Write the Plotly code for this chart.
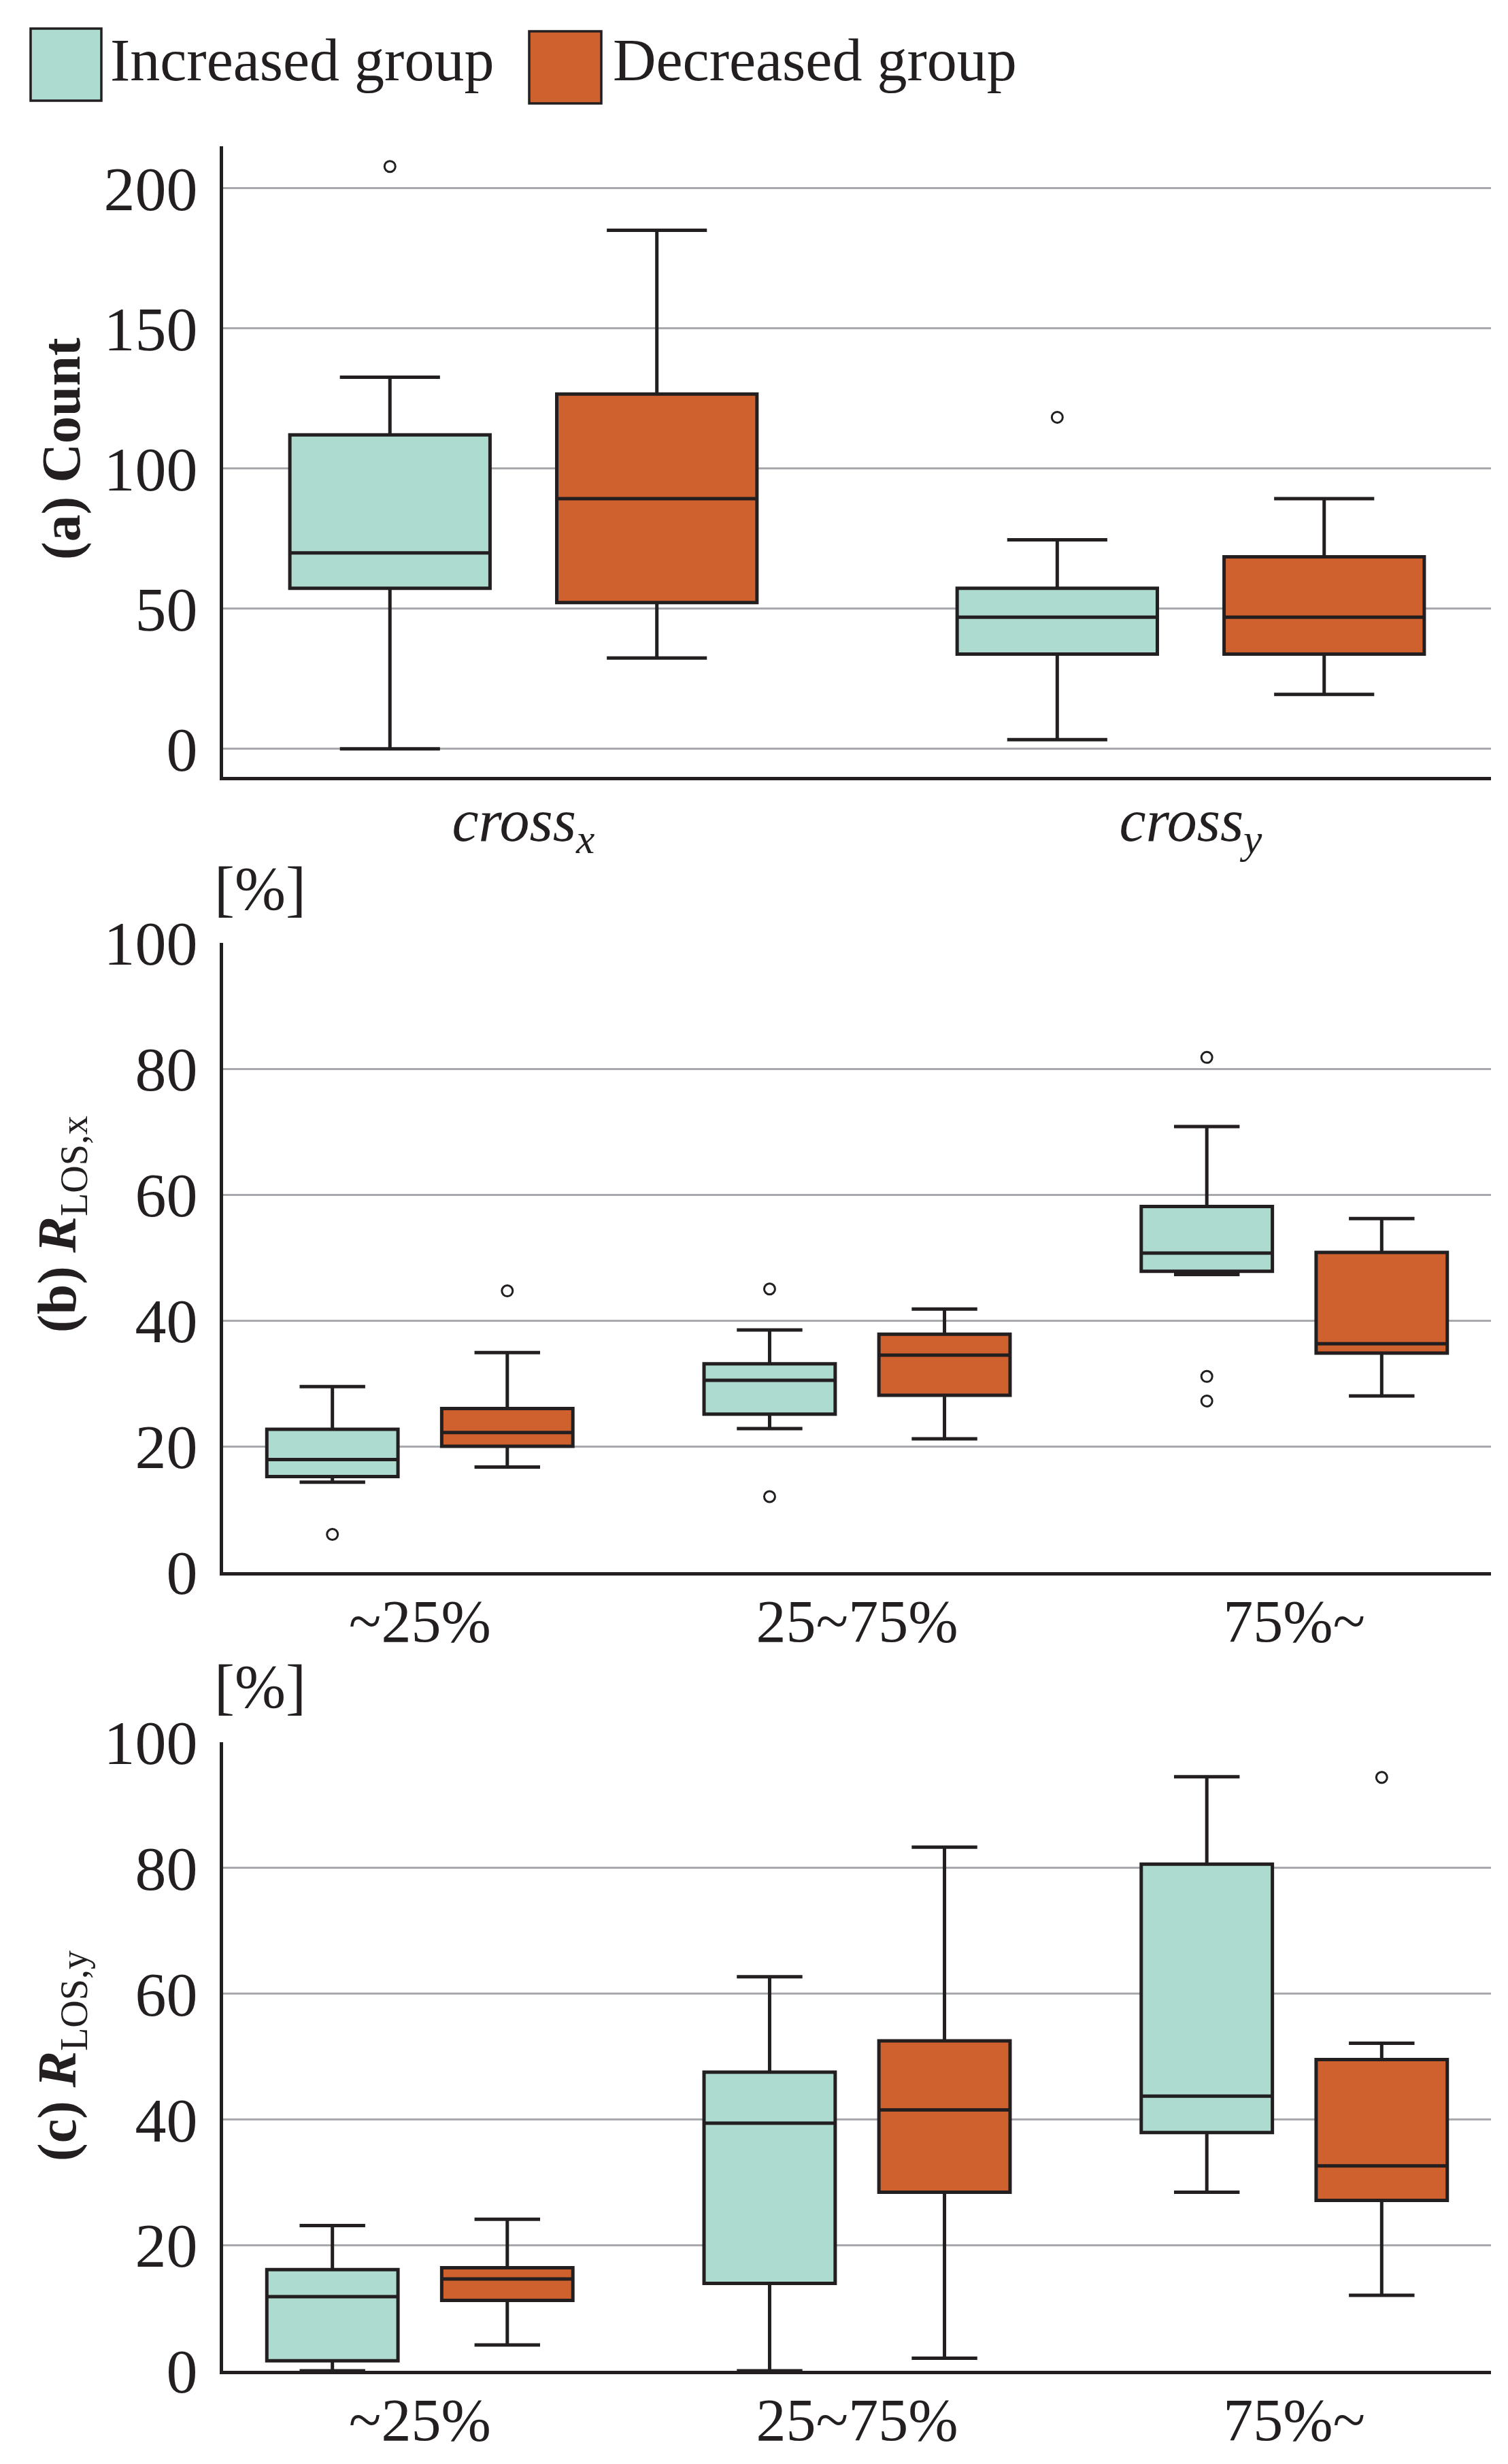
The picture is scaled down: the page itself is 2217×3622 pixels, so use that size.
import plotly.graph_objects as go

# ---------------- data ----------------
group_names = ["Increased group", "Decreased group"]

cats_a = ["cross_x", "cross_y"]
ticktext_a = ["<i>cross<sub>x</sub></i>", "<i>cross<sub>y</sub></i>"]
cats_bc = ["~25%", "25~75%", "75%~"]

# (a) Count
a_inc_low = [0.0, 3.3]
a_inc_q1 = [57.3, 33.8]
a_inc_med = [69.9, 47.0]
a_inc_q3 = [112.0, 57.3]
a_inc_up = [132.6, 74.6]
a_inc_out = [[207.8], [118.3]]

a_dec_low = [32.4, 19.4]
a_dec_q1 = [52.2, 33.8]
a_dec_med = [89.3, 47.0]
a_dec_q3 = [126.6, 68.5]
a_dec_up = [185.0, 89.3]
a_dec_out = [[], []]

# (b) R_LOS,x [%]
b_inc_low = [14.3, 22.8, 47.3]
b_inc_q1 = [15.2, 25.1, 47.8]
b_inc_med = [17.9, 30.5, 50.7]
b_inc_q3 = [22.7, 33.1, 58.1]
b_inc_up = [29.5, 38.5, 70.8]
b_inc_out = [[6.0], [45.0, 12.0], [81.8, 31.1, 27.2]]

b_dec_low = [16.7, 21.2, 28.0]
b_dec_q1 = [20.0, 28.1, 34.8]
b_dec_med = [22.2, 34.5, 36.3]
b_dec_q3 = [26.0, 37.8, 50.8]
b_dec_up = [34.9, 41.8, 56.2]
b_dec_out = [[44.7], [], []]

# (c) R_LOS,y [%]
c_inc_low = [0.0, 0.0, 28.4]
c_inc_q1 = [1.6, 13.9, 37.9]
c_inc_med = [11.8, 39.4, 43.7]
c_inc_q3 = [16.1, 47.5, 80.6]
c_inc_up = [23.1, 62.7, 94.5]
c_inc_out = [[], [], []]

c_dec_low = [4.1, 2.0, 12.0]
c_dec_q1 = [11.2, 28.4, 27.1]
c_dec_med = [14.6, 41.5, 32.6]
c_dec_q3 = [16.4, 52.5, 49.5]
c_dec_up = [24.1, 83.3, 52.1]
c_dec_out = [[], [], [94.4]]

ytick_a = [0, 50, 100, 150, 200]
ytick_bc = [0, 20, 40, 60, 80, 100]

# ---------------- style ----------------
# positions below are given in page pixels; the html body adds an 8px margin
OFF = 8
W, H = 2217 - OFF, 3622 - OFF
ML, MR, MT, MB = 328 - OFF, 25, 215 - OFF, 137
PW = W - ML - MR
PH = H - MT - MB
FONT = "Liberation Serif"
DARK = "#231f20"
GRID = "#a7a9ac"
TEAL = "#addbd0"
ORANGE = "#ce612d"


def px_x(px):
    return (px - OFF - ML) / PW


def px_y(py):
    return (H - MB - (py - OFF)) / PH


dom_a = [px_y(1142), px_y(215)]
dom_b = [px_y(2311), px_y(1386)]
dom_c = [0.0, px_y(2561)]

fig = go.Figure()


def add_box(name, color, group, cats, low, q1, med, q3, up, out, xa, ya):
    # rows without outliers get a null placeholder so every row is a list of samples
    samples = [row if len(row) else [None] for row in out]
    fig.add_trace(go.Box(
        name=name,
        x=cats,
        y=samples,
        q1=q1, median=med, q3=q3,
        lowerfence=low, upperfence=up,
        boxpoints="outliers",
        jitter=0, pointpos=0,
        whiskerwidth=0.5,
        fillcolor=color,
        line=dict(color=DARK, width=5),
        marker=dict(symbol="circle-open", size=16, color=DARK,
                    line=dict(width=3, color=DARK)),
        offsetgroup=group, alignmentgroup="all",
        xaxis=xa, yaxis=ya,
        showlegend=False,
    ))


add_box(group_names[0], TEAL, "inc", cats_a, a_inc_low, a_inc_q1, a_inc_med, a_inc_q3, a_inc_up, a_inc_out, "x", "y")
add_box(group_names[1], ORANGE, "dec", cats_a, a_dec_low, a_dec_q1, a_dec_med, a_dec_q3, a_dec_up, a_dec_out, "x", "y")
add_box(group_names[0], TEAL, "inc", cats_bc, b_inc_low, b_inc_q1, b_inc_med, b_inc_q3, b_inc_up, b_inc_out, "x2", "y2")
add_box(group_names[1], ORANGE, "dec", cats_bc, b_dec_low, b_dec_q1, b_dec_med, b_dec_q3, b_dec_up, b_dec_out, "x2", "y2")
add_box(group_names[0], TEAL, "inc", cats_bc, c_inc_low, c_inc_q1, c_inc_med, c_inc_q3, c_inc_up, c_inc_out, "x3", "y3")
add_box(group_names[1], ORANGE, "dec", cats_bc, c_dec_low, c_dec_q1, c_dec_med, c_dec_q3, c_dec_up, c_dec_out, "x3", "y3")

xcommon = dict(
    type="category", showline=True, linewidth=5, linecolor=DARK,
    showgrid=False, zeroline=False, ticks="",
    tickfont=dict(family=FONT, size=88, color=DARK), domain=[0, 1],
)
ycommon = dict(
    type="linear",
    showline=True, linewidth=5, linecolor=DARK, showgrid=True,
    gridcolor=GRID, gridwidth=3, zeroline=False, ticks="",
    ticklabelstandoff=14, tickfont=dict(family=FONT, size=92, color=DARK),
)

fig.update_layout(
    width=W, height=H,
    margin=dict(l=ML, r=MR, t=MT, b=MB),
    paper_bgcolor="white", plot_bgcolor="white",
    boxmode="group", boxgap=0.2, boxgroupgap=0.25,
    showlegend=False,
    font=dict(family=FONT, color=DARK),
    xaxis=dict(xcommon, anchor="y", range=[-0.45, 1.45],
               categoryorder="array", categoryarray=cats_a,
               tickvals=cats_a, ticktext=ticktext_a, ticklabelstandoff=-17),
    yaxis=dict(ycommon, anchor="x", domain=dom_a, range=[-10, 215], tickvals=ytick_a),
    xaxis2=dict(xcommon, anchor="y2", range=[-0.45, 2.45], ticklabelstandoff=-9,
                categoryorder="array", categoryarray=cats_bc),
    yaxis2=dict(ycommon, anchor="x2", domain=dom_b, range=[0, 100], tickvals=ytick_bc),
    xaxis3=dict(xcommon, anchor="y3", range=[-0.45, 2.45], ticklabelstandoff=-9,
                categoryorder="array", categoryarray=cats_bc),
    yaxis3=dict(ycommon, anchor="x3", domain=dom_c, range=[0, 100], tickvals=ytick_bc),
)

# y-axis titles
titles = [
    ("<b>(a) Count</b>", 660),
    ("<b>(b) <i>R</i></b><sub>LOS,x</sub>", 1800),
    ("<b>(c) <i>R</i></b><sub>LOS,y</sub>", 3022),
]
for txt, yc in titles:
    fig.add_annotation(
        text=txt, xref="paper", yref="paper", x=px_x(90), y=px_y(yc),
        xanchor="center", yanchor="middle", textangle=-90, showarrow=False,
        font=dict(family=FONT, size=80, color=DARK),
    )

# unit labels
for yc in (1306, 2479):
    fig.add_annotation(
        text="[%]", xref="paper", yref="paper", x=px_x(382), y=px_y(yc),
        xanchor="center", yanchor="middle", showarrow=False,
        font=dict(family=FONT, size=90, color=DARK),
    )

# legend (drawn manually to match the large swatches)
legend_items = [(group_names[0], TEAL, 45, 149, 42, 148, 160),
                (group_names[1], ORANGE, 778, 884, 46, 152, 899)]
for name, col, x0, x1, y0, y1, tx in legend_items:
    fig.add_shape(type="rect", xref="paper", yref="paper",
                  x0=px_x(x0), x1=px_x(x1), y0=px_y(y1), y1=px_y(y0),
                  fillcolor=col, line=dict(color=DARK, width=3.5))
    fig.add_annotation(text=name, xref="paper", yref="paper",
                       x=px_x(tx), y=px_y(88), xanchor="left", yanchor="middle",
                       showarrow=False, font=dict(family=FONT, size=88, color=DARK))

fig.write_html("out.html")
